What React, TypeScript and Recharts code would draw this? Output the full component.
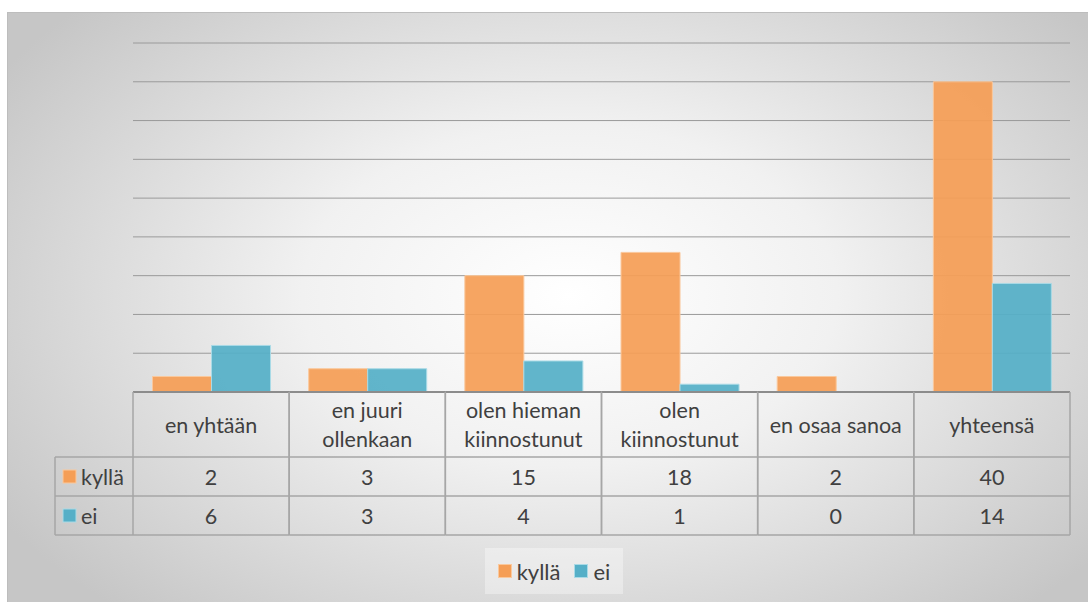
import React from 'react';
import { BarChart, Bar, XAxis, YAxis, CartesianGrid, Legend } from 'recharts';

// categories (\n marks where the header cell wraps)
const categories = [
  'en yhtään',
  'en juuri\nollenkaan',
  'olen hieman\nkiinnostunut',
  'olen\nkiinnostunut',
  'en osaa sanoa',
  'yhteensä',
];
const kylla = [2, 3, 15, 18, 2, 40];
const ei = [6, 3, 4, 1, 0, 14];
const yTicks = [0, 5, 10, 15, 20, 25, 30, 35, 40, 45];

const series = [
  { key: 'kyllä', values: kylla, fill: '#F59E56', stroke: '#FAC89C' },
  { key: 'ei', values: ei, fill: '#55AFC7', stroke: '#A9DAE6' },
];

const data = categories.map((name, i) => ({
  name,
  'kyllä': kylla[i],
  ei: ei[i],
}));

const W = 1080;
const H = 589;
const MARGIN = { top: 30, right: 18, left: 125, bottom: 8 };
const PLOT_W = W - MARGIN.left - MARGIN.right;
const TEXT = '#404040';
const LINE = '#a6a6a6';
const FONT = 'Lato, "Open Sans", sans-serif';
const FS = 21.5;
const HEAD_H = 65;
const ROW_H = 39;
const KEY_LEFT = 47;

const TableTick = (props: any) => {
  const { x, y, payload, index } = props;
  const band = PLOT_W / categories.length;
  const left = x - band / 2;
  const right = x + band / 2;
  const lines = String(payload.value).split('\n');
  const bottom = y + HEAD_H + ROW_H * 2;
  return (
    <g fontFamily={FONT} fill={TEXT}>
      <line x1={left} x2={right} y1={y} y2={y} stroke="#8c8c8c" strokeWidth={2} />
      <line x1={left} x2={right} y1={y + HEAD_H} y2={y + HEAD_H} stroke={LINE} strokeWidth={1.5} />
      <line x1={left} x2={right} y1={y + HEAD_H + ROW_H} y2={y + HEAD_H + ROW_H} stroke={LINE} strokeWidth={1.5} />
      <line x1={left} x2={right} y1={bottom} y2={bottom} stroke={LINE} strokeWidth={1.5} />
      <line x1={left} x2={left} y1={y} y2={bottom} stroke={LINE} strokeWidth={1.5} />
      <line x1={right} x2={right} y1={y} y2={bottom} stroke={LINE} strokeWidth={1.5} />
      {lines.map((ln, i) => (
        <text
          key={i}
          x={x}
          y={y + HEAD_H / 2 + (i - (lines.length - 1) / 2) * 29}
          textAnchor="middle"
          dominantBaseline="central"
          fontSize={FS}
        >
          {ln}
        </text>
      ))}
      {series.map((s, r) => (
        <text
          key={s.key}
          x={x}
          y={y + HEAD_H + ROW_H * r + ROW_H / 2}
          textAnchor="middle"
          dominantBaseline="central"
          fontSize={FS}
        >
          {s.values[index]}
        </text>
      ))}
      {index === 0 && (
        <g>
          <line x1={KEY_LEFT} x2={left} y1={y + HEAD_H} y2={y + HEAD_H} stroke={LINE} strokeWidth={1.5} />
          <line x1={KEY_LEFT} x2={left} y1={y + HEAD_H + ROW_H} y2={y + HEAD_H + ROW_H} stroke={LINE} strokeWidth={1.5} />
          <line x1={KEY_LEFT} x2={left} y1={bottom} y2={bottom} stroke={LINE} strokeWidth={1.5} />
          <line x1={KEY_LEFT} x2={KEY_LEFT} y1={y + HEAD_H} y2={bottom} stroke={LINE} strokeWidth={1.5} />
          {series.map((s, r) => {
            const cy = y + HEAD_H + ROW_H * r + ROW_H / 2;
            return (
              <g key={s.key}>
                <rect x={KEY_LEFT + 8} y={cy - 6.5} width={13} height={13} fill={s.fill} stroke={s.stroke} />
                <text x={KEY_LEFT + 26} y={cy} dominantBaseline="central" fontSize={FS}>
                  {s.key}
                </text>
              </g>
            );
          })}
        </g>
      )}
    </g>
  );
};

const LegendBox = () => (
  <div
    style={{
      width: 138,
      height: 46,
      margin: '0 auto',
      background: 'rgba(255,255,255,0.35)',
      display: 'flex',
      alignItems: 'center',
      justifyContent: 'center',
      fontFamily: FONT,
      fontSize: 22,
      color: TEXT,
    }}
  >
    {series.map((s, i) => (
      <span key={s.key} style={{ display: 'flex', alignItems: 'center', marginLeft: i ? 14 : 0 }}>
        <span
          style={{
            width: 12,
            height: 12,
            background: s.fill,
            border: `1px solid ${s.stroke}`,
            marginRight: 5,
          }}
        />
        {s.key}
      </span>
    ))}
  </div>
);

export default function App() {
  return (
    <div style={{ position: 'fixed', left: 0, top: 0, width: 1088, height: 602, background: '#fff', overflow: 'hidden' }}>
      <div
        style={{
          position: 'absolute',
          left: 7,
          top: 12,
          width: 1081,
          height: 590,
          boxSizing: 'border-box',
          borderTop: '1px solid #bdbdbd',
          borderLeft: '1px solid #bdbdbd',
          background: 'radial-gradient(ellipse 62% 72% at 52% 48%, #ffffff 0%, #f1f1f1 40%, #c6c6c6 100%)',
        }}
      >
        <BarChart width={W} height={H} data={data} margin={MARGIN} barCategoryGap="12.5%" barGap={0}>
          <CartesianGrid vertical={false} stroke="#9a9a9a" strokeWidth={1} />
          <YAxis hide domain={[0, 45]} ticks={yTicks} />
          <XAxis
            dataKey="name"
            height={156}
            axisLine={false}
            tickLine={false}
            tickSize={0}
            tickMargin={0}
            interval={0}
            tick={<TableTick />}
          />
          <Legend verticalAlign="bottom" wrapperStyle={{ left: 0, width: 1092 }} content={<LegendBox />} />
          {series.map((s) => (
            <Bar
              key={s.key}
              dataKey={s.key}
              fill={s.fill}
              fillOpacity={0.93}
              stroke={s.stroke}
              strokeWidth={1}
              isAnimationActive={false}
            />
          ))}
        </BarChart>
      </div>
    </div>
  );
}
